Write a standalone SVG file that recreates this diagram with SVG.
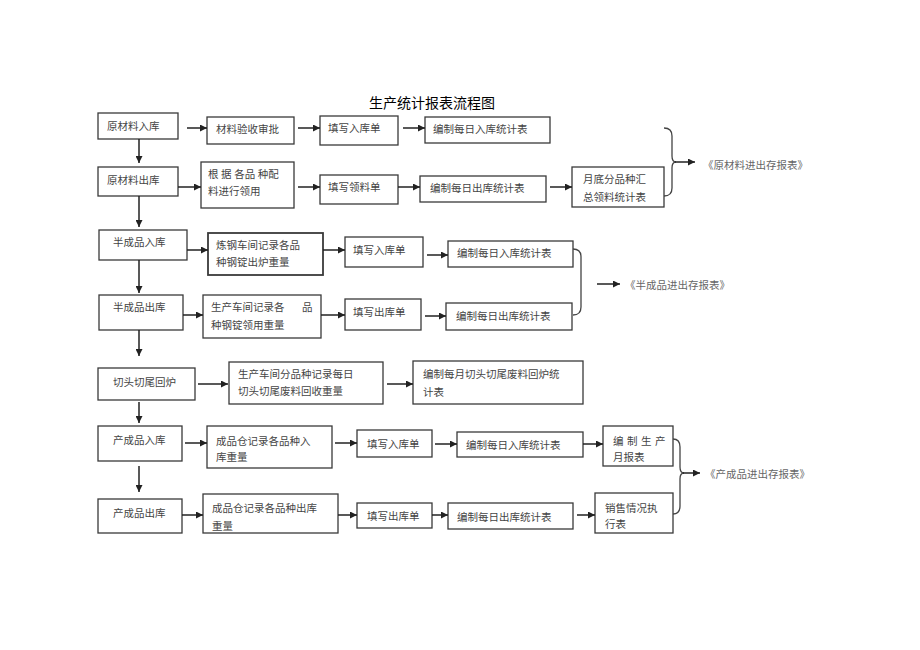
<svg xmlns="http://www.w3.org/2000/svg" width="920" height="650" viewBox="0 0 920 650">
<defs>
<style>
.box{fill:#fff;stroke:#3a3a3a;stroke-width:1.3}
.t{font-family:"Liberation Serif","Noto Sans CJK SC",serif;font-size:10.5px;fill:#444}
.lbl{font-family:"Liberation Serif","Noto Sans CJK SC",serif;font-size:10.5px;fill:#666}
.title{font-family:"Liberation Sans","Noto Sans CJK SC",sans-serif;font-size:14px;fill:#000}
.ln{stroke:#222;stroke-width:1.5;fill:none}
.br{stroke:#444;stroke-width:1.3;fill:none}
</style>
<marker id="ah" markerUnits="userSpaceOnUse" markerWidth="7" markerHeight="7" refX="7" refY="3.5" orient="auto">
<path d="M0,0 L7,3.5 L0,7 z" fill="#222"/>
</marker>
</defs>
<rect width="920" height="650" fill="#fff"/>
<text class="title" x="432" y="108" text-anchor="middle">生产统计报表流程图</text>

<g id="n1"><rect class="box" x="98" y="113" width="80" height="26"/><text class="t" x="107" y="130">原材料入库</text></g>
<g id="n2"><rect class="box" x="207" y="117" width="87" height="27"/><text class="t" x="216" y="133">材料验收审批</text></g>
<g id="n3"><rect class="box" x="320" y="116" width="78" height="29"/><text class="t" x="328" y="132">填写入库单</text></g>
<g id="n4"><rect class="box" x="425" y="117" width="125" height="26"/><text class="t" x="433" y="133">编制每日入库统计表</text></g>

<g id="n5"><rect class="box" x="98" y="167" width="80" height="29"/><text class="t" x="107" y="184">原材料出库</text></g>
<g id="n6"><rect class="box" x="201" y="162" width="93" height="46"/><text class="t" x="208" y="178">根 据 各品 种配</text><text class="t" x="208" y="195">料进行领用</text></g>
<g id="n7"><rect class="box" x="320" y="175" width="78" height="29"/><text class="t" x="328" y="191">填写领料单</text></g>
<g id="n8"><rect class="box" x="420" y="176" width="126" height="26"/><text class="t" x="430" y="192">编制每日出库统计表</text></g>
<g id="n9"><rect class="box" x="572" y="167" width="92" height="40"/><text class="t" x="583" y="183">月底分品种汇</text><text class="t" x="583" y="201">总领料统计表</text></g>
<g id="r1"><text class="lbl" x="703" y="169">《原材料进出存报表》</text></g>

<g id="n10"><rect class="box" x="99" y="230" width="88" height="30"/><text class="t" x="113" y="246">半成品入库</text></g>
<g id="n11"><rect class="box" x="208" y="233" width="115" height="42" style="stroke-width:1.8"/><text class="t" x="216" y="249">炼钢车间记录各品</text><text class="t" x="216" y="266">种钢锭出炉重量</text></g>
<g id="n12"><rect class="box" x="345" y="237" width="78" height="30"/><text class="t" x="353" y="254">填写入库单</text></g>
<g id="n13"><rect class="box" x="448" y="241" width="125" height="26"/><text class="t" x="457" y="257">编制每日入库统计表</text></g>

<g id="n14"><rect class="box" x="99" y="295" width="84" height="35"/><text class="t" x="113" y="311">半成品出库</text></g>
<g id="n15"><rect class="box" x="203" y="295" width="118" height="43"/><text class="t" x="211" y="311">生产车间记录各<tspan x="302">品</tspan></text><text class="t" x="211" y="329">种钢锭领用重量</text></g>
<g id="n16"><rect class="box" x="345" y="299" width="76" height="31"/><text class="t" x="353" y="316">填写出库单</text></g>
<g id="n17"><rect class="box" x="446" y="303" width="126" height="27"/><text class="t" x="456" y="320">编制每日出库统计表</text></g>
<g id="r2"><text class="lbl" x="625" y="289">《半成品进出存报表》</text></g>

<g id="n18"><rect class="box" x="98" y="368" width="97" height="32"/><text class="t" x="113" y="386">切头切尾回炉</text></g>
<g id="n19"><rect class="box" x="229" y="362" width="154" height="42"/><text class="t" x="238" y="378">生产车间分品种记录每日</text><text class="t" x="238" y="395">切头切尾废料回收重量</text></g>
<g id="n20"><rect class="box" x="413" y="361" width="170" height="43"/><text class="t" x="423" y="378">编制每月切头切尾废料回炉统</text><text class="t" x="423" y="396">计表</text></g>

<g id="n21"><rect class="box" x="98" y="426" width="84" height="35"/><text class="t" x="113" y="444">产成品入库</text></g>
<g id="n22"><rect class="box" x="207" y="426" width="125" height="42"/><text class="t" x="216" y="445">成品仓记录各品种入</text><text class="t" x="216" y="461">库重量</text></g>
<g id="n23"><rect class="box" x="357" y="430" width="75" height="27"/><text class="t" x="367" y="448">填写入库单</text></g>
<g id="n24"><rect class="box" x="457" y="432" width="126" height="25"/><text class="t" x="466" y="449">编制每日入库统计表</text></g>
<g id="n25"><rect class="box" x="603" y="426" width="70" height="40"/><text class="t" x="613" y="445" letter-spacing="3.5">编制生产</text><text class="t" x="613" y="461">月报表</text></g>

<g id="n26"><rect class="box" x="98" y="499" width="84" height="34"/><text class="t" x="113" y="517">产成品出库</text></g>
<g id="n27"><rect class="box" x="203" y="494" width="135" height="39"/><text class="t" x="212" y="512">成品仓记录各品种出库</text><text class="t" x="212" y="530">重量</text></g>
<g id="n28"><rect class="box" x="357" y="503" width="75" height="25"/><text class="t" x="367" y="520">填写出库单</text></g>
<g id="n29"><rect class="box" x="448" y="503" width="125" height="26"/><text class="t" x="457" y="521">编制每日出库统计表</text></g>
<g id="n30"><rect class="box" x="595" y="493" width="78" height="40"/><text class="t" x="605" y="512">销售情况执</text><text class="t" x="605" y="528">行表</text></g>
<g id="r3"><text class="lbl" x="705" y="478">《产成品进出存报表》</text></g>

<g id="connectors">
<line class="ln" x1="187" y1="128" x2="207" y2="128" marker-end="url(#ah)"/>
<line class="ln" x1="298" y1="128" x2="320" y2="128" marker-end="url(#ah)"/>
<line class="ln" x1="403" y1="128" x2="425" y2="128" marker-end="url(#ah)"/>
<line class="ln" x1="178" y1="187" x2="201" y2="187" marker-end="url(#ah)"/>
<line class="ln" x1="298" y1="187" x2="320" y2="187" marker-end="url(#ah)"/>
<line class="ln" x1="398" y1="187" x2="420" y2="187" marker-end="url(#ah)"/>
<line class="ln" x1="550" y1="187" x2="572" y2="187" marker-end="url(#ah)"/>
<path class="br" d="M664,128 Q672,128 672,136 L672,156 Q672,162 676,162 Q672,162 672,168 L672,188 Q672,196 664,196"/>
<line class="ln" x1="675" y1="162" x2="695" y2="162" marker-end="url(#ah)"/>

<line class="ln" x1="187" y1="250" x2="208" y2="250" marker-end="url(#ah)"/>
<line class="ln" x1="323" y1="250" x2="345" y2="250" marker-end="url(#ah)"/>
<line class="ln" x1="427" y1="255" x2="448" y2="255" marker-end="url(#ah)"/>
<line class="ln" x1="183" y1="315" x2="203" y2="315" marker-end="url(#ah)"/>
<line class="ln" x1="321" y1="315" x2="345" y2="315" marker-end="url(#ah)"/>
<line class="ln" x1="425" y1="316" x2="446" y2="316" marker-end="url(#ah)"/>
<path class="br" d="M573,249 Q581,249 581,257 L581,307 Q581,315 573,315"/>
<line class="ln" x1="597" y1="284" x2="620" y2="284" marker-end="url(#ah)"/>

<line class="ln" x1="198" y1="384" x2="228" y2="384" marker-end="url(#ah)"/>
<line class="ln" x1="387" y1="384" x2="413" y2="384" marker-end="url(#ah)"/>

<line class="ln" x1="185" y1="443" x2="207" y2="443" marker-end="url(#ah)"/>
<line class="ln" x1="335" y1="443" x2="357" y2="443" marker-end="url(#ah)"/>
<line class="ln" x1="435" y1="444" x2="457" y2="444" marker-end="url(#ah)"/>
<line class="ln" x1="583" y1="444" x2="603" y2="444" marker-end="url(#ah)"/>
<line class="ln" x1="182" y1="515" x2="203" y2="515" marker-end="url(#ah)"/>
<line class="ln" x1="338" y1="515" x2="357" y2="515" marker-end="url(#ah)"/>
<line class="ln" x1="432" y1="515" x2="448" y2="515" marker-end="url(#ah)"/>
<line class="ln" x1="577" y1="515" x2="595" y2="515" marker-end="url(#ah)"/>
<path class="br" d="M673,439 Q680,439 680,447 L680,467 Q680,473 684,473 Q680,473 680,479 L680,506 Q680,514 673,514"/>
<line class="ln" x1="683" y1="473" x2="700" y2="473" marker-end="url(#ah)"/>

<line class="ln" x1="139" y1="139" x2="139" y2="163" marker-end="url(#ah)"/>
<line class="ln" x1="139" y1="196" x2="139" y2="227" marker-end="url(#ah)"/>
<line class="ln" x1="139" y1="260" x2="139" y2="293" marker-end="url(#ah)"/>
<line class="ln" x1="139" y1="330" x2="139" y2="356" marker-end="url(#ah)"/>
<line class="ln" x1="139" y1="402" x2="139" y2="423" marker-end="url(#ah)"/>
<line class="ln" x1="139" y1="466" x2="139" y2="492" marker-end="url(#ah)"/>
</g>
</svg>
